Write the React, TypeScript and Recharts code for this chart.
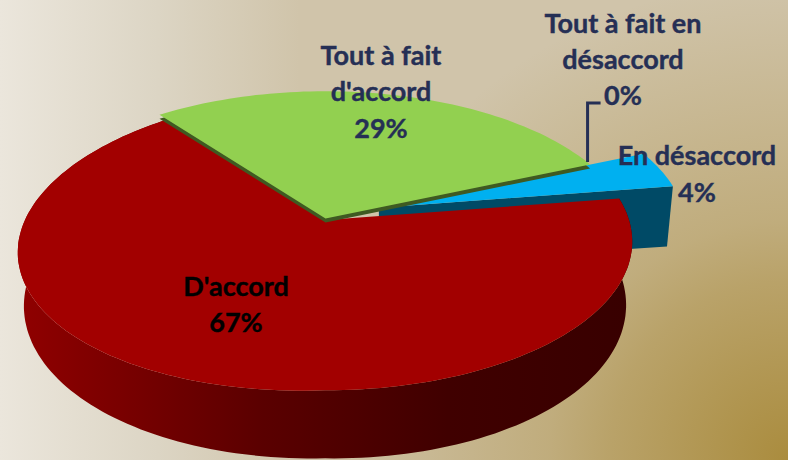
import React from 'react';
import { PieChart, Pie, Cell } from 'recharts';

const CATEGORIES = ['En désaccord', "D'accord", "Tout à fait d'accord", 'Tout à fait en désaccord'];
const VALUES = [4, 67, 29, 0];

const TOP_COLORS = ['#00b0f0', '#a20000', '#92d050', '#7f7f7f'];
const WALL_COLORS = ['#004a66', 'url(#redWall)', '#3f5a22', '#3f3f3f'];
const EXPLODE = [56, 0, 2, 0];

const LABEL_LINES = [
  ['En désaccord', '4%'],
  ["D'accord", '67%'],
  ['Tout à fait', "d'accord", '29%'],
  ['Tout à fait en', 'désaccord', '0%'],
];
const LABEL_CENTERS = [
  [697, 154, 37],
  [236, 285, 36],
  [381, 54, 36.5],
  [623, 22, 36],
];
const NAVY = '#252f55';

const WIDTH = 788;
const HEIGHT = 460;
const PERSPECTIVE = 0.145;
const SQUASH = 0.479;
const RAD = Math.PI / 180;

// circle in the pie's plane -> screen offset from the centre
function rim(r: number, deg: number, tilt = 0) {
  const s = Math.sin(deg * RAD);
  const c = Math.cos(deg * RAD);
  const d = 1 + PERSPECTIVE * s;
  const x = (r * c) / d;
  return [x, (-SQUASH * r * s) / d + tilt * Math.max(0, -x)];
}

function lower(r: number, deg: number, tilt = 0) {
  const [x, y] = rim(r, deg, tilt);
  const s = Math.sin(deg * RAD);
  const c = Math.cos(deg * RAD);
  return [x * 0.98, y + 57 - 11 * s + 5 * c];
}

function toPath(points: number[][]) {
  return 'M' + points.map((p) => `${p[0].toFixed(1)},${p[1].toFixed(1)}`).join('L') + 'Z';
}

function arcDegrees(start: number, end: number) {
  const out: number[] = [];
  const n = Math.max(1, Math.ceil(Math.abs(start - end) / 1.5));
  for (let i = 0; i <= n; i++) out.push(start + ((end - start) * i) / n);
  return out;
}

function Slice3D(props: any) {
  const { cx, cy, outerRadius, startAngle, endAngle, index } = props;
  const i = index ?? CATEGORIES.indexOf(props.payload?.name ?? props.name);
  if (startAngle === endAngle) return <g />;
  const mid = (startAngle + endAngle) / 2;
  const ox = cx + EXPLODE[i] * Math.cos(mid * RAD);
  const oy = cy - 0.8 * EXPLODE[i] * Math.sin(mid * RAD);
  const tilt = i === 1 ? 0.035 : 0;
  const at = (p: number[]) => [ox + p[0], oy + p[1]];
  // red runs a little under the green slice so no gap opens at the corner
  const degs = arcDegrees(startAngle, i === 1 ? endAngle - 2.5 : endAngle);
  const top = [[ox, oy], ...degs.map((d) => at(rim(outerRadius, d, tilt)))];

  let wall = null;
  if (i === 1) {
    // red: the outer wall, the top face hides the back of it
    const pts = [
      ...degs.map((d) => at(rim(outerRadius, d, tilt))),
      ...[...degs].reverse().map((d) => at(lower(outerRadius, d, tilt))),
    ];
    wall = <path d={toPath(pts)} fill={WALL_COLORS[i]} />;
  } else if (i === 0) {
    // blue: the cut face turned to the viewer
    const pts = [
      [ox, oy],
      at(rim(outerRadius, endAngle)),
      at(lower(outerRadius, endAngle)),
      [ox, oy + 58],
    ];
    wall = <path d={toPath(pts)} fill={WALL_COLORS[i]} />;
  } else {
    // green: only a thin dark edge shows
    wall = <path d={toPath(top.map((p) => [p[0], p[1] + 4]))} fill={WALL_COLORS[i]} />;
  }

  return (
    <g>
      <defs>
        <linearGradient id="redWall" gradientUnits="userSpaceOnUse" x1={18} y1={0} x2={632} y2={0}>
          <stop offset="0" stopColor="#900000" />
          <stop offset="0.4" stopColor="#5a0000" />
          <stop offset="0.7" stopColor="#400000" />
          <stop offset="1" stopColor="#380000" />
        </linearGradient>
      </defs>
      {wall}
      <path d={toPath(top)} fill={TOP_COLORS[i]} />
    </g>
  );
}

function SliceLabel(props: any) {
  const { index, cx, cy, outerRadius, startAngle } = props;
  const [x, y, step] = LABEL_CENTERS[index];
  const color = index === 1 ? '#000000' : NAVY;
  let leader = null;
  if (index === 3) {
    const p = rim(outerRadius, startAngle);
    const lx = cx + p[0] - 2;
    leader = (
      <path
        d={`M${lx},${cy + p[1] - 4}L${lx},103L${lx + 13},103`}
        fill="none"
        stroke={NAVY}
        strokeWidth={3}
      />
    );
  }
  return (
    <g>
      {leader}
      {LABEL_LINES[index].map((line, k) => (
        <text
          key={k}
          x={x}
          y={y + k * step}
          textAnchor="middle"
          dominantBaseline="central"
          fontFamily="Lato, sans-serif"
          fontWeight={700}
          fontSize={27}
          fill={color}
          stroke={color}
          strokeWidth={0.4}
        >
          {line}
        </text>
      ))}
    </g>
  );
}

const chartData = CATEGORIES.map((name, i) => ({ name, value: VALUES[i] }));

export default function App() {
  document.body.style.margin = '0';
  return (
    <div
      style={{
        width: WIDTH,
        height: HEIGHT,
        overflow: 'hidden',
        background:
          'radial-gradient(circle at 100% 100%, rgba(170,140,62,1) 0px, rgba(170,140,62,0.78) 100px, rgba(170,140,62,0.6) 180px, rgba(170,140,62,0.42) 240px, rgba(170,140,62,0) 480px), linear-gradient(90deg, #ebe6dc 0%, #dcd5c4 20%, #d0c4aa 38%, #d0c4aa 100%)',
      }}
    >
      <PieChart width={WIDTH} height={HEIGHT} margin={{ top: 0, right: 0, bottom: 0, left: 0 }}>
        <Pie
          data={chartData}
          dataKey="value"
          nameKey="name"
          cx={325}
          cy={220}
          outerRadius={304}
          startAngle={23.1}
          endAngle={-336.9}
          stroke="none"
          shape={Slice3D}
          label={SliceLabel}
          labelLine={false}
          isAnimationActive={false}
        >
          {chartData.map((d, i) => (
            <Cell key={d.name} fill={TOP_COLORS[i]} />
          ))}
        </Pie>
      </PieChart>
    </div>
  );
}
